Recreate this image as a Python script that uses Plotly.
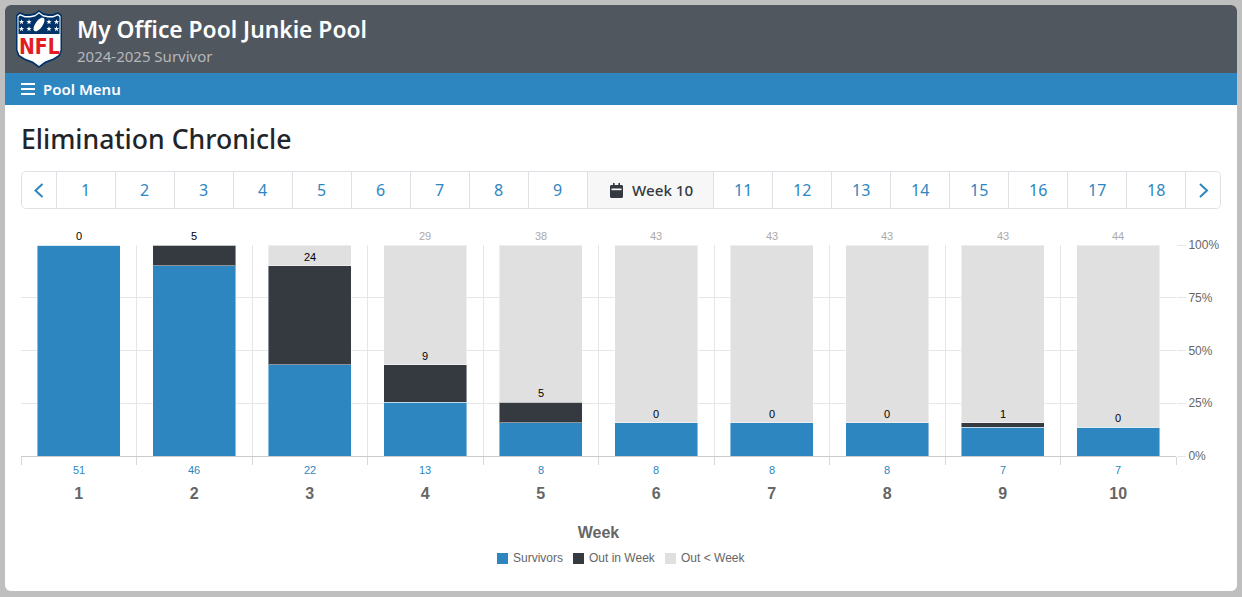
import math
import plotly.graph_objects as go

W, H = 1242, 597

weeks = ["1", "2", "3", "4", "5", "6", "7", "8", "9", "10"]
survivors = [51, 46, 22, 13, 8, 8, 8, 8, 7, 7]
out_in_week = [0, 5, 24, 9, 5, 0, 0, 0, 1, 0]
out_before = [0, 0, 5, 29, 38, 43, 43, 43, 43, 44]
# The reference prints no grey total above weeks 1 to 3
out_before_labels = ["", "", "", "29", "38", "43", "43", "43", "43", "44"]
y_ticks = [0, 25, 50, 75, 100]
nav_weeks_left = ["1", "2", "3", "4", "5", "6", "7", "8", "9"]
nav_weeks_right = ["11", "12", "13", "14", "15", "16", "17", "18"]

BLUE = "#2e86c1"
DARK = "#343a40"
LIGHT = "#e0e0e0"
HEAD = "#51575e"
GREY = "#666666"
BORDER = "#dee2e6"
UI = "Noto Sans"
CHART = "Liberation Sans"

px = lambda x: x / W
py = lambda y: 1 - y / H


def path(points, close=True):
    s = "M" + " L".join(f"{px(x):.5f},{py(y):.5f}" for x, y in points)
    return s + (" Z" if close else "")


def rounded(x0, y0, x1, y1, rt=0, rb=0):
    pts = []
    def arc(cx, cy, r, a0):
        if r == 0:
            pts.append((cx, cy))
            return
        for i in range(7):
            a = math.radians(a0 + i * 15)
            pts.append((cx + r * math.cos(a), cy + r * math.sin(a)))
    arc(x0 + rt, y0 + rt, rt, 180)
    arc(x1 - rt, y0 + rt, rt, 270)
    arc(x1 - rb, y1 - rb, rb, 0)
    arc(x0 + rb, y1 - rb, rb, 90)
    return path(pts)


shapes = []
annotations = []


def shape(d, fill=None, line=None, lw=0, layer="below"):
    shapes.append(dict(type="path", path=d, xref="paper", yref="paper", layer=layer,
                       fillcolor=fill if fill else "rgba(0,0,0,0)",
                       line=dict(color=line if line else "rgba(0,0,0,0)", width=lw)))


def label(x, y, text, size, color, family=UI, xanchor="center", weight=None):
    f = dict(size=size, color=color, family=family)
    if weight:
        f["weight"] = weight
    annotations.append(dict(x=px(x), y=py(y), xref="paper", yref="paper", text=text, showarrow=False,
                            xanchor=xanchor, yanchor="middle", font=f, borderpad=0, borderwidth=0))


# Page card, header and menu bar
shape(rounded(5, 5, 1237, 591, 6, 6), fill="#ffffff")
shape(rounded(5, 5, 1237, 73, 6, 0), fill=HEAD)
shape(path([(5, 73), (1237, 73), (1237, 105), (5, 105)]), fill=BLUE)

# NFL shield
shield = [(39, 10), (43, 13), (48, 14), (53, 14), (58, 12), (62, 15), (62, 50), (60, 56), (54, 60), (46, 63),
          (39, 68), (32, 63), (24, 60), (18, 56), (16, 50), (16, 15), (20, 12), (25, 14), (30, 14), (35, 13)]
shape(path(shield), fill="#013369", layer="above")
inner = [(39, 12), (43, 15), (48, 16), (53, 16), (58, 14), (60.5, 16), (60.5, 50), (58.5, 55), (53, 58.5), (45, 61.5),
         (39, 66), (33, 61.5), (25, 58.5), (19.5, 55), (17.5, 50), (17.5, 16), (20, 14), (25, 16), (30, 16), (35, 15)]
shape(path(inner), fill="#ffffff", layer="above")
upper = [(39, 13.5), (43, 16.5), (48, 17.5), (53, 17.5), (58, 15.5), (59.5, 17), (59.5, 34), (18.5, 34), (18.5, 17),
         (20, 15.5), (25, 17.5), (30, 17.5), (35, 16.5)]
shape(path(upper), fill="#013369", layer="above")
ball = []
for i in range(24):
    a = 2 * math.pi * i / 24
    ex, ey = 3.6 * math.cos(a), 8.0 * math.sin(a)
    t = math.radians(35)
    ball.append((39 + ex * math.cos(t) - ey * math.sin(t), 24.5 + ex * math.sin(t) + ey * math.cos(t)))
shape(path(ball), fill="#ffffff", layer="above")
for sx in (21.5, 29, 49, 56.5):
    for sy in (22, 29):
        star = []
        for i in range(10):
            r = 2.8 if i % 2 == 0 else 1.1
            a = -math.pi / 2 + i * math.pi / 5
            star.append((sx + r * math.cos(a), sy + r * math.sin(a)))
        shape(path(star), fill="#ffffff", layer="above")
annotations.append(dict(x=px(39), y=py(47), xref="paper", yref="paper", text="<b>NFL</b>", showarrow=False,
                        font=dict(family="Liberation Sans Narrow, DejaVu Sans Condensed", size=21, color="#e31b23"),
                        xanchor="center", yanchor="middle"))

label(77, 30, "My Office Pool Junkie Pool", 22.8, "#ffffff", xanchor="left", weight=600)
label(77, 56, "2024-2025 Survivor", 15, "#b4b8bc", xanchor="left")

for y in (84, 89, 94):
    shape(path([(21, y), (35, y)], close=False), line="#ffffff", lw=2)
label(43, 89, "Pool Menu", 15, "#ffffff", xanchor="left", weight=600)
label(21, 139, "Elimination Chronicle", 26.6, "#212529", xanchor="left", weight=500)

# Week navigator
shape(path([(587.5, 171), (713.5, 171), (713.5, 209), (587.5, 209)]), fill="#f7f7f7")
shape(rounded(21.5, 171.5, 1220.5, 208.5, 4, 4), line=BORDER, lw=1)
cell_edges = [56.5 + 59 * i for i in range(10)] + [713.5 + 59 * i for i in range(9)]
for e in cell_edges:
    shape(path([(e, 171), (e, 209)], close=False), line=BORDER, lw=1)
for i, t in enumerate(nav_weeks_left):
    label(85.5 + 59 * i, 190, t, 16, BLUE)
for i, t in enumerate(nav_weeks_right):
    label(743 + 59 * i, 190, t, 16, BLUE)
label(632, 190, "Week 10", 15.2, DARK, xanchor="left", weight=500)
shape(path([(42.5, 184), (35.5, 190.5), (42.5, 197)], close=False), line=BLUE, lw=2)
shape(path([(1200, 184), (1207, 190.5), (1200, 197)], close=False), line=BLUE, lw=2)
# Calendar icon
shape(rounded(610, 185, 623, 198, 1.5, 1.5), fill=DARK)
shape(path([(611.5, 188.5), (621.5, 188.5), (621.5, 190.2), (611.5, 190.2)]), fill="#f7f7f7")
shape(path([(613, 183), (614.6, 183), (614.6, 186), (613, 186)]), fill=DARK)
shape(path([(618.4, 183), (620, 183), (620, 186), (618.4, 186)]), fill=DARK)

fig = go.Figure()
for name, vals, col in [("Survivors", survivors, BLUE), ("Out in Week", out_in_week, DARK), ("Out < Week", out_before, LIGHT)]:
    fig.add_bar(x=weeks, y=vals, name=name, marker=dict(color=col, line=dict(color="rgba(255,255,255,0.45)", width=1)))

# Data labels follow the stacks; annotation x on a category axis is the category index
for i, wk in enumerate(weeks):
    total = survivors[i] + out_in_week[i] + out_before[i]
    top_in = survivors[i] + out_in_week[i]
    annotations.append(dict(x=i, y=100 * top_in / total, xref="x", yref="y", yshift=9, text=str(out_in_week[i]),
                            showarrow=False, font=dict(family=CHART, size=11, color="#000000"), yanchor="middle"))
    if out_before_labels[i]:
        annotations.append(dict(x=i, y=100, xref="x", yref="y", yshift=9, text=out_before_labels[i], showarrow=False,
                                font=dict(family=CHART, size=11, color="#aaaaaa"), yanchor="middle"))
    annotations.append(dict(x=i, y=0, xref="x", yref="y", yshift=-14, text=str(survivors[i]), showarrow=False,
                            font=dict(family=CHART, size=11, color=BLUE), yanchor="middle"))

# Chart legend
legend_items = [(497, 513, "Survivors", BLUE), (573, 589, "Out in Week", DARK), (665, 681, "Out < Week", LIGHT)]
for x0, xt, t, c in legend_items:
    shape(path([(x0, 553), (x0 + 11, 553), (x0 + 11, 564), (x0, 564)]), fill=c)
    label(xt, 558, t, 12, GREY, family=CHART, xanchor="left")

fig.update_layout(
    width=W, height=H, autosize=False,
    margin=dict(l=0, r=0, t=0, b=0, pad=0, autoexpand=False),
    paper_bgcolor="#bfbfbf", plot_bgcolor="rgba(0,0,0,0)",
    barmode="stack", barnorm="percent", bargap=0.28,
    showlegend=False, shapes=shapes, annotations=annotations,
    font=dict(family=CHART, color=GREY),
    xaxis=dict(domain=[px(21), px(1176)], type="category", categoryorder="array", categoryarray=weeks,
               tickson="boundaries", ticks="outside", ticklen=8, tickcolor="#d8d8d8", tickwidth=1,
               showgrid=True, gridcolor="#e6e6e6", gridwidth=1, showline=True, linecolor="#cccccc", linewidth=1,
               tickfont=dict(family=CHART, size=16, color=GREY, weight="bold"), ticklabelstandoff=23,
               zeroline=False, fixedrange=True,
               title=dict(text="Week", font=dict(family=CHART, size=16, color=GREY, weight="bold"), standoff=25)),
    yaxis=dict(domain=[py(456), py(245)], range=[0, 100], side="right", tickvals=y_ticks,
               ticktext=[f"{v}%" for v in y_ticks], ticks="outside", ticklen=9, tickcolor="#e6e6e6",
               showgrid=True, gridcolor="#e6e6e6", gridwidth=1, showline=False, zeroline=False,
               tickfont=dict(family=CHART, size=12, color=GREY), fixedrange=True),
    hovermode=False,
)

fig.write_html("out.html", config=dict(displayModeBar=False),
               post_script="document.body.style.margin='0';document.body.style.overflow='hidden';")
